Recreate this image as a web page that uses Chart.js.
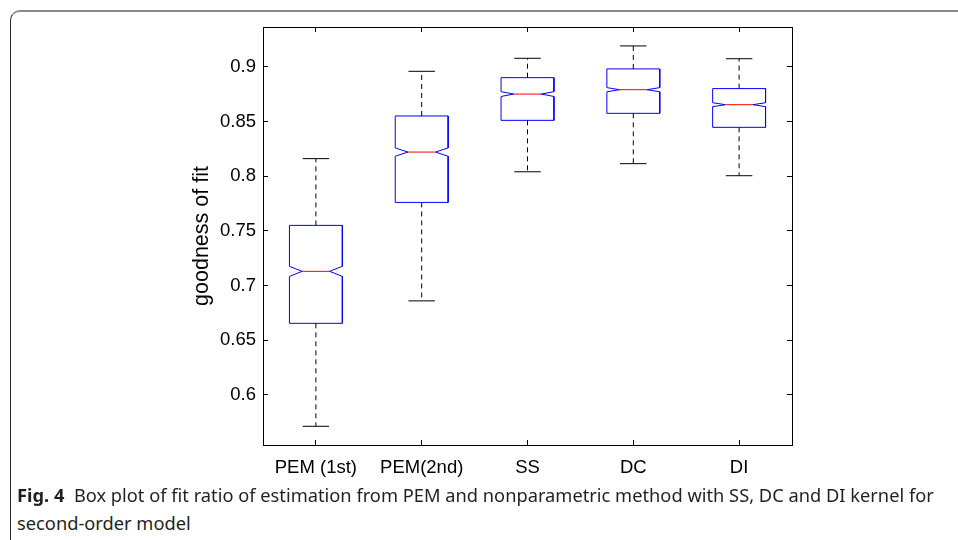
<!DOCTYPE html>
<html>
<head>
<meta charset="utf-8">
<script src="https://cdn.jsdelivr.net/npm/chart.js@4/dist/chart.umd.min.js"></script>
<style>
  html, body { margin: 0; padding: 0; background: #fff; width: 958px; height: 540px; overflow: hidden; }
  #frame { position: absolute; left: 10px; top: 10px; width: 1000px; height: 600px;
           border-top: 2px solid #8a8a8a; border-left: 1.5px solid #2a2a2a; border-top-left-radius: 10px; box-sizing: border-box; }
  #wrap { position: absolute; left: 0; top: 0; width: 958px; height: 490px; }
  .cap { position: absolute; left: 17px; font-family: "Noto Sans", "Open Sans", sans-serif; font-size: 18px; color: #231f20;
         white-space: nowrap; transform-origin: 0 0; transform: scaleX(1.015); line-height: 1; }
  .cap b { font-weight: 700; }
</style>
</head>
<body>
<div id="frame"></div>
<div id="wrap"><canvas id="c" width="958" height="490"></canvas></div>
<div class="cap" style="top:486px;"><b>Fig. 4</b>&nbsp; Box plot of fit ratio of estimation from PEM and nonparametric method with SS, DC and DI kernel for</div>
<div class="cap" style="top:514px;">second-order model</div>
<script>
// ---- data ----
const categories = ['PEM (1st)', 'PEM(2nd)', 'SS', 'DC', 'DI'];
const whiskerLow  = [0.5714, 0.686, 0.804, 0.8114, 0.8004];
const quartile1   = [0.6655, 0.776, 0.851, 0.8574, 0.8446];
const medians     = [0.713, 0.822, 0.875, 0.879, 0.8653];
const quartile3   = [0.755, 0.855, 0.890, 0.898, 0.880];
const whiskerHigh = [0.816, 0.8958, 0.9077, 0.919, 0.9073];
const notchLow    = [0.7084, 0.8182, 0.8728, 0.8771, 0.8635];
const notchHigh   = [0.7176, 0.8258, 0.8772, 0.8809, 0.8671];
const yTickValues = [0.6, 0.65, 0.7, 0.75, 0.8, 0.85, 0.9];
const yTickLabels = ['0.6', '0.65', '0.7', '0.75', '0.8', '0.85', '0.9'];

// ---- geometry in category units (style, not data) ----
const HALF = 0.25, NOTCH = 0.12, CAP = 0.125;

const boxPts = [], medPts = [], whiskPts = [], capPts = [];
categories.forEach((_, i) => {
  const c = i + 1;
  boxPts.push(
    {x: c - HALF, y: quartile1[i]}, {x: c - HALF, y: notchLow[i]}, {x: c - HALF + NOTCH, y: medians[i]},
    {x: c - HALF, y: notchHigh[i]}, {x: c - HALF, y: quartile3[i]}, {x: c + HALF, y: quartile3[i]},
    {x: c + HALF, y: notchHigh[i]}, {x: c + HALF - NOTCH, y: medians[i]}, {x: c + HALF, y: notchLow[i]},
    {x: c + HALF, y: quartile1[i]}, {x: c - HALF, y: quartile1[i]}, {x: c, y: null});
  medPts.push({x: c - HALF + NOTCH, y: medians[i]}, {x: c + HALF - NOTCH, y: medians[i]}, {x: c, y: null});
  whiskPts.push({x: c, y: quartile3[i]}, {x: c, y: whiskerHigh[i]}, {x: c, y: null},
                {x: c, y: quartile1[i]}, {x: c, y: whiskerLow[i]}, {x: c, y: null});
  capPts.push({x: c - CAP, y: whiskerHigh[i]}, {x: c + CAP, y: whiskerHigh[i]}, {x: c, y: null},
              {x: c - CAP, y: whiskerLow[i]}, {x: c + CAP, y: whiskerLow[i]}, {x: c, y: null});
});

const lineDs = (data, color, dash) => ({
  data, borderColor: color, borderWidth: 1, borderDash: dash || [], pointRadius: 0, pointHoverRadius: 0,
  showLine: true, spanGaps: false, fill: false, tension: 0
});

const tickFont = { family: '"Liberation Sans", Arial, sans-serif', size: 18.5 };
const catTicks = s => { s.ticks = categories.map((_, i) => ({ value: i + 1 })); };
const yTicks = s => { s.ticks = yTickValues.map(v => ({ value: v })); };
const YMIN = 0.5543, YMAX = 0.9363;
const CANVAS_H = 490;

new Chart(document.getElementById('c'), {
  type: 'scatter',
  data: { datasets: [
    lineDs(whiskPts, '#000000', [5, 4]),
    lineDs(capPts, '#000000'),
    lineDs(boxPts, '#0000ff'),
    lineDs(medPts, '#ff0000')
  ]},
  options: {
    responsive: false, animation: false, devicePixelRatio: 1,
    layout: { padding: 0 },
    plugins: { legend: { display: false }, tooltip: { enabled: false }, title: { display: false } },
    scales: {
      x: {
        type: 'linear', position: 'bottom', min: 0.5, max: 5.5,
        afterBuildTicks: catTicks,
        afterFit: s => { s.height = CANVAS_H - 445; },
        border: { display: true, color: '#000', width: 1 },
        grid: { drawOnChartArea: false, drawTicks: true, tickLength: -5, color: '#000' },
        ticks: { autoSkip: false, maxRotation: 0, padding: 17, color: '#000', font: tickFont,
                 callback: v => categories[Math.round(v) - 1] }
      },
      x2: {
        type: 'linear', position: 'top', min: 0.5, max: 5.5,
        afterBuildTicks: catTicks,
        afterFit: s => { s.height = 27; },
        border: { display: true, color: '#000', width: 1 },
        grid: { drawOnChartArea: false, drawTicks: true, tickLength: -5, color: '#000' },
        ticks: { display: false }
      },
      y: {
        type: 'linear', position: 'left', min: YMIN, max: YMAX,
        afterBuildTicks: yTicks,
        afterFit: s => { s.width = 263; },
        border: { display: true, color: '#000', width: 1 },
        grid: { drawOnChartArea: false, drawTicks: true, tickLength: -5, color: '#000' },
        ticks: { padding: 12, color: '#000', font: tickFont,
                 callback: v => yTickLabels[yTickValues.findIndex(t => Math.abs(t - v) < 1e-9)] },
        title: { display: true, text: 'goodness of fit', color: '#000',
                 font: { family: '"Liberation Sans", Arial, sans-serif', size: 21.5 },
                 padding: { top: 189, bottom: 0 } }
      },
      y2: {
        type: 'linear', position: 'right', min: YMIN, max: YMAX,
        afterBuildTicks: yTicks,
        afterFit: s => { s.width = 958 - 792; },
        border: { display: true, color: '#000', width: 1 },
        grid: { drawOnChartArea: false, drawTicks: true, tickLength: -5, color: '#000' },
        ticks: { display: false }
      }
    }
  }
});
</script>
</body>
</html>
